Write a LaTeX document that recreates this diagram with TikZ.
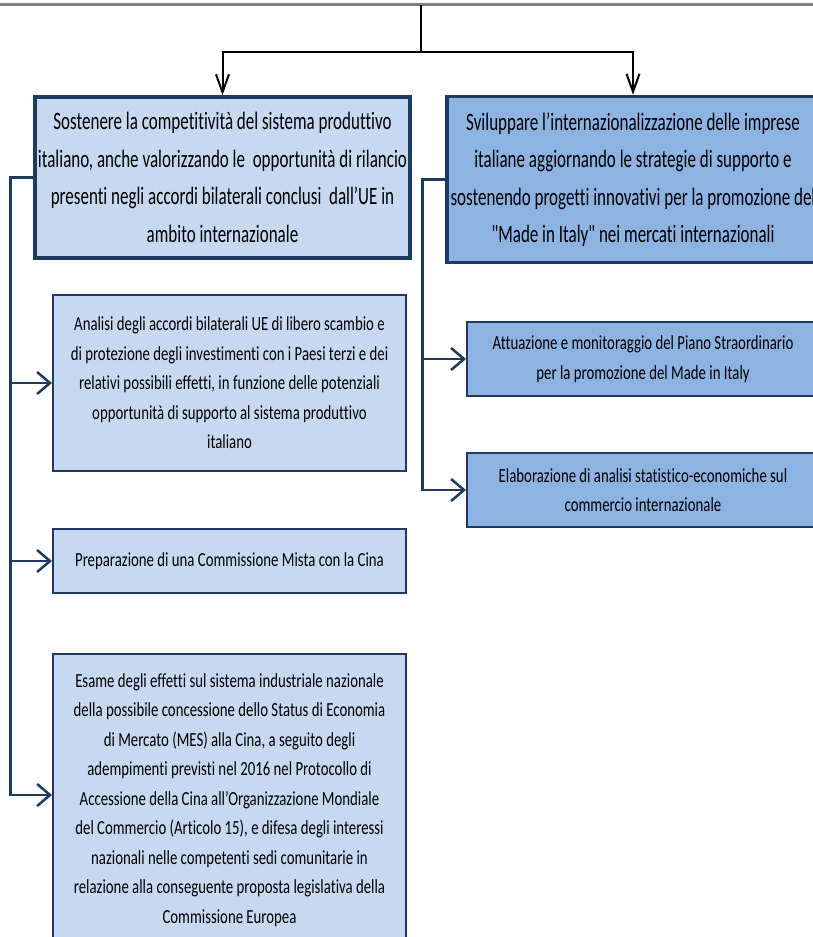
\documentclass[tikz,border=0pt]{standalone}
\usepackage{fontspec}
\setmainfont{Carlito}[Ligatures=NoCommon]
\newfontfamily\titlefont{Carlito}[FakeStretch=0.68,Ligatures=NoCommon]
\newfontfamily\subfont{Carlito}[FakeStretch=0.74,Ligatures=NoCommon]
\usetikzlibrary{arrows.meta}
\definecolor{navy}{HTML}{1F3A60}
\definecolor{lightfill}{HTML}{C6D9F1}
\definecolor{midfill}{HTML}{8DB3E2}
\begin{document}
\begin{tikzpicture}[x=1pt,y=-1pt,
  titlebox/.style={draw=navy, line width=3.5pt, align=center, inner sep=0pt, font=\titlefont\fontsize{25}{37.5}\selectfont},
  subbox/.style={draw=navy, line width=2pt, align=center, inner sep=0pt, font=\subfont\fontsize{20}{29.5}\selectfont},
  toparrow/.style={line width=2pt, -{Straight Barb[length=18pt,width=13pt]}},
  sidearrow/.style={draw=navy, line width=2.5pt, -{Straight Barb[length=13pt,width=22pt]}},
]
\useasboundingbox (0,0) rectangle (813,937);
\clip (0,0) rectangle (813,937);
\draw[gray, line width=3pt] (0,4) -- (813,4);

\node[titlebox, fill=lightfill, minimum width=375pt, minimum height=161pt] (t1) at (222.5,177.5)
  {Sostenere la competitività del sistema produttivo\\
   italiano, anche valorizzando le \ opportunità di rilancio\\
   presenti negli accordi bilaterali conclusi \ dall’UE in\\
   ambito internazionale};
\node[titlebox, fill=midfill, minimum width=372pt, minimum height=166pt] (t2) at (633,179.5)
  {Sviluppare l’internazionalizzazione delle imprese\\
   italiane aggiornando le strategie di supporto e\\
   sostenendo progetti innovativi per la promozione del\\
   "Made in Italy" nei mercati internazionali};

\node[subbox, fill=lightfill, minimum width=353pt, minimum height=176pt] (s1) at (229.5,383)
  {Analisi degli accordi bilaterali UE di libero scambio e\\
   di protezione degli investimenti con i Paesi terzi e dei\\
   relativi possibili effetti, in funzione delle potenziali\\
   opportunità di supporto al sistema produttivo\\
   italiano};
\node[subbox, fill=lightfill, minimum width=353pt, minimum height=64pt] (s2) at (229.5,561)
  {Preparazione di una Commissione Mista con la Cina};
\node[subbox, fill=lightfill, minimum width=353pt, minimum height=292pt] (s3) at (229.5,800)
  {Esame degli effetti sul sistema industriale nazionale\\
   della possibile concessione dello Status di Economia\\
   di Mercato (MES) alla Cina, a seguito degli\\
   adempimenti previsti nel 2016 nel Protocollo di\\
   Accessione della Cina all’Organizzazione Mondiale\\
   del Commercio (Articolo 15), e difesa degli interessi\\
   nazionali nelle competenti sedi comunitarie in\\
   relazione alla conseguente proposta legislativa della\\
   Commissione Europea};

\node[subbox, fill=midfill, minimum width=352pt, minimum height=74pt] (r1) at (643,359)
  {Attuazione e monitoraggio del Piano Straordinario\\
   per la promozione del Made in Italy};
\node[subbox, fill=midfill, minimum width=352pt, minimum height=74pt] (r2) at (643,490)
  {Elaborazione di analisi statistico-economiche sul\\
   commercio internazionale};

\coordinate (top) at (421,5);
\coordinate (split) at (421,52);
\draw[line width=1.5pt] (top) -- (split);
\draw[toparrow] (split) -| (t1.north);
\draw[toparrow] (split) -| (t2.north);

\draw[sidearrow] (t1.west) -- ++(-23,0) |- (s1.west);
\draw[sidearrow] (t1.west) -- ++(-23,0) |- (s2.west);
\draw[sidearrow] (t1.west) -- ++(-23,0) |- ([yshift=5pt]s3.west);

\draw[sidearrow] (t2.west) -- ++(-23,0) |- (r1.west);
\draw[sidearrow] (t2.west) -- ++(-23,0) |- (r2.west);
\end{tikzpicture}
\end{document}
